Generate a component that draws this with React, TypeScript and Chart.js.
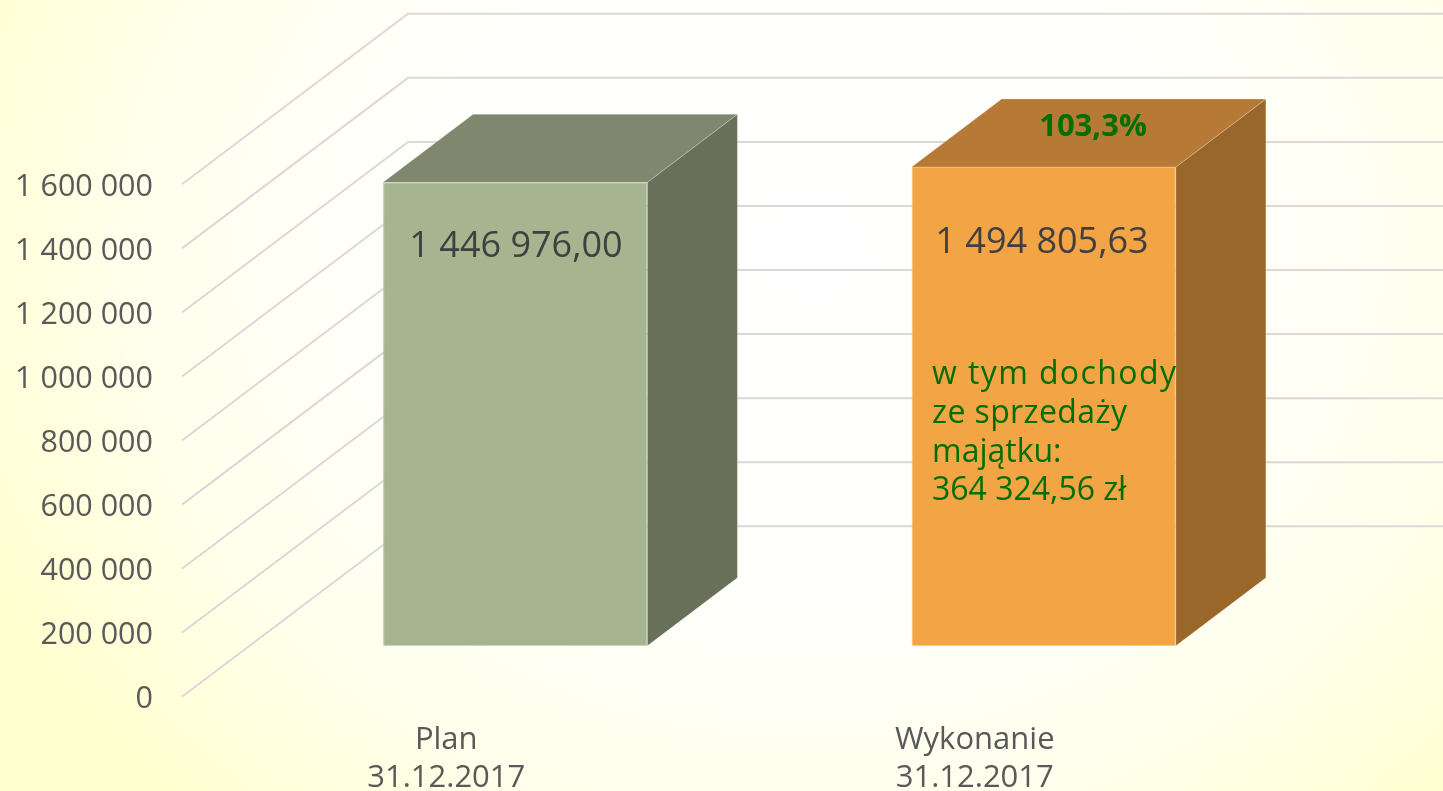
import React, { useEffect, useRef } from "react";
import { Chart, registerables } from "chart.js";

Chart.register(...registerables);

const categories = [["Plan", "31.12.2017"], ["Wykonanie", "31.12.2017"]];
const values = [1446976.0, 1494805.63];
const valueLabels = ["1 446 976,00", "1 494 805,63"];
const frontColors = ["#A6B490", "#F3A445"];
const frontEdges = ["#B9C4A8", "#F6BB73"];
const topColors = ["#7F876E", "#B67A36"];
const sideColors = ["#687059", "#996729"];
const noteLines = ["w tym dochody", "ze sprzedaży", "majątku:", "364 324,56 zł"];
const noteTracking = ["1.4px", "0.4px", "0px", "0px"];
const percentLabel = "103,3%";

const FONT = "'Open Sans', Lato, sans-serif";
const WALL = { dx: 226, dy: -170.5 };
const BAR_FRONT = { dx: 69, dy: -51 };
const BAR_DEPTH = { dx: 90, dy: -68 };

const poly = (ctx: CanvasRenderingContext2D, pts: number[][], color: string) => {
  ctx.beginPath();
  pts.forEach(([x, y], i) => (i ? ctx.lineTo(x, y) : ctx.moveTo(x, y)));
  ctx.closePath();
  ctx.fillStyle = color;
  ctx.fill();
  ctx.strokeStyle = "rgba(255,255,255,0.22)";
  ctx.lineWidth = 1;
  ctx.stroke();
};

const box3d = {
  id: "box3d",
  afterLayout(chart: any) {
    const s = chart.scales.y;
    if (!s.__shifted) {
      const orig = s.drawLabels;
      s.drawLabels = function (area: any) {
        chart.ctx.save();
        chart.ctx.translate(0, 3);
        orig.call(this, area);
        chart.ctx.restore();
      };
      s.__shifted = true;
    }
  },
  beforeDatasetsDraw(chart: any) {
    const { ctx, chartArea, scales } = chart;
    ctx.save();
    ctx.strokeStyle = "#D9D9D9";
    ctx.lineWidth = 2;
    scales.y.ticks.forEach((t: any) => {
      const y = scales.y.getPixelForValue(t.value);
      ctx.beginPath();
      ctx.moveTo(chartArea.left, y);
      ctx.lineTo(chartArea.left + WALL.dx, y + WALL.dy);
      ctx.lineTo(chartArea.right + WALL.dx, y + WALL.dy);
      ctx.stroke();
    });
    chart.getDatasetMeta(0).data.forEach((bar: any, i: number) => {
      const l = bar.x - bar.width / 2 + BAR_FRONT.dx;
      const r = bar.x + bar.width / 2 + BAR_FRONT.dx;
      const t = bar.y + BAR_FRONT.dy;
      const b = bar.base + BAR_FRONT.dy;
      poly(ctx, [[r, t], [r + BAR_DEPTH.dx, t + BAR_DEPTH.dy], [r + BAR_DEPTH.dx, b + BAR_DEPTH.dy], [r, b]], sideColors[i]);
      poly(ctx, [[l, t], [l + BAR_DEPTH.dx, t + BAR_DEPTH.dy], [r + BAR_DEPTH.dx, t + BAR_DEPTH.dy], [r, t]], topColors[i]);
    });
    ctx.restore();
  },
  beforeDatasetDraw(chart: any) {
    chart.ctx.save();
    chart.ctx.translate(BAR_FRONT.dx, BAR_FRONT.dy);
  },
  afterDatasetDraw(chart: any) {
    chart.ctx.restore();
  },
  afterDatasetsDraw(chart: any) {
    const { ctx } = chart;
    ctx.save();
    ctx.textBaseline = "middle";
    ctx.textAlign = "center";
    ctx.fillStyle = "#404040";
    ctx.font = `36px ${FONT}`;
    ctx.fillText(valueLabels[0], 516, 247);
    ctx.fillText(valueLabels[1], 1042, 243);
    ctx.fillStyle = "#006F00";
    ctx.font = `bold 31px ${FONT}`;
    ctx.fillText(percentLabel, 1093, 127);
    ctx.textAlign = "left";
    ctx.font = `32px ${FONT}`;
    noteLines.forEach((line, i) => {
      (ctx as any).letterSpacing = noteTracking[i];
      ctx.fillText(line, 932, 375 + i * 38.7);
    });
    ctx.restore();
  },
};

export default function App() {
  const ref = useRef<HTMLCanvasElement>(null);
  useEffect(() => {
    const chart = new Chart(ref.current!, {
      type: "bar",
      data: {
        labels: categories,
        datasets: [
          {
            data: values,
            backgroundColor: frontColors,
            borderColor: frontEdges,
            borderWidth: 1,
            barPercentage: 1,
            categoryPercentage: 0.5,
            clip: false,
          } as any,
        ],
      },
      options: {
        animation: false,
        responsive: false,
        layout: { padding: { top: 184.3, right: 204, left: 0, bottom: 0 } },
        plugins: { legend: { display: false }, tooltip: { enabled: false } },
        scales: {
          x: {
            grid: { display: false },
            border: { display: false },
            afterFit: (s: any) => { s.height = 94.2; },
            ticks: {
              color: "#595959",
              font: { family: FONT, size: 31, lineHeight: 1.23 },
              padding: 16,
              maxRotation: 0,
              autoSkip: false,
            },
          },
          y: {
            min: 0,
            max: 1600000,
            grid: { display: false },
            border: { display: false },
            afterFit: (s: any) => { s.width = 182; },
            ticks: {
              stepSize: 200000,
              color: "#595959",
              font: { family: FONT, size: 30.5 },
              padding: 21,
              callback: (v: any) => String(v).replace(/\B(?=(\d{3})+$)/g, " "),
            },
          },
        },
      },
      plugins: [box3d],
    } as any);
    return () => chart.destroy();
  }, []);
  return (
    <div
      style={{
        position: "fixed",
        inset: 0,
        overflow: "hidden",
        background:
          "radial-gradient(ellipse 900px 760px at 56% 32%, #FFFFFF 0%, #FFFFFB 45%, #FFFFEC 75%, #FFFFD0 100%)",
      }}
    >
      <canvas ref={ref} width={1443} height={791} style={{ display: "block" }} />
    </div>
  );
}
